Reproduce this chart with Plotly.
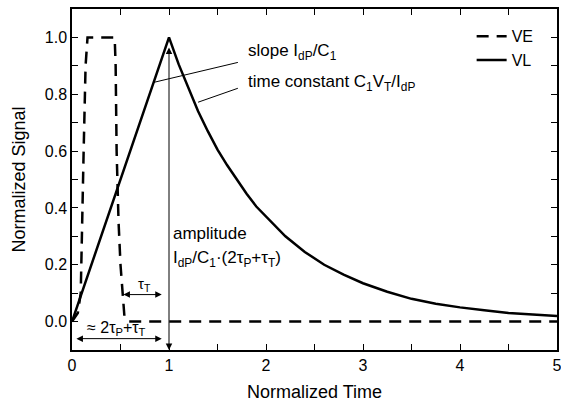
import plotly.graph_objects as go

# ---- data ----
ve_x = [0, 0.06, 0.09, 0.10, 0.12, 0.14, 0.16, 0.44, 0.45, 0.46, 0.48, 0.50, 0.52, 0.54, 0.58, 5.0]
ve_y = [0, 0.03, 0.10, 0.30, 0.60, 0.90, 1.00, 1.00, 0.90, 0.60, 0.35, 0.20, 0.10, 0.02, 0.0, 0.0]

vl_x = [0, 1.0, 1.1, 1.2, 1.3, 1.4, 1.5, 1.6, 1.7, 1.8, 1.9, 2.0, 2.2, 2.4, 2.6, 2.8, 3.0,
        3.25, 3.5, 3.75, 4.0, 4.25, 4.5, 4.75, 5.0]
vl_y = [0, 1.0, 0.905, 0.82, 0.74, 0.67, 0.605, 0.55, 0.50, 0.45, 0.405, 0.37, 0.30, 0.245,
        0.20, 0.165, 0.135, 0.105, 0.08, 0.063, 0.05, 0.04, 0.03, 0.025, 0.02]

x_ticks = [0, 1, 2, 3, 4, 5]
y_ticks = [0.0, 0.2, 0.4, 0.6, 0.8, 1.0]

FONT = "Arial, Liberation Sans, sans-serif"

fig = go.Figure()
fig.add_trace(go.Scatter(x=ve_x, y=ve_y, mode="lines", name="VE",
                         line=dict(color="black", width=2.5, dash="12px,8px")))
fig.add_trace(go.Scatter(x=vl_x, y=vl_y, mode="lines", name="VL",
                         line=dict(color="black", width=2.5)))

# leader lines
fig.add_shape(type="line", xref="x", yref="y", x0=0.845, y0=0.842, x1=1.71, y1=0.912,
              line=dict(color="black", width=1))
fig.add_shape(type="line", xref="x", yref="y", x0=1.30, y0=0.772, x1=1.71, y1=0.821,
              line=dict(color="black", width=1))

tf = dict(family=FONT, size=17, color="black")
fig.add_annotation(x=1.79, y=0.947, xref="x", yref="y", xanchor="left", showarrow=False,
                   text="slope I<sub>dP</sub>/C<sub>1</sub>", font=tf)
fig.add_annotation(x=1.79, y=0.84, xref="x", yref="y", xanchor="left", showarrow=False,
                   text="time constant C<sub>1</sub>V<sub>T</sub>/I<sub>dP</sub>", font=tf)
fig.add_annotation(x=1.02, y=0.31, xref="x", yref="y", xanchor="left", showarrow=False,
                   text="amplitude", font=tf)
fig.add_annotation(x=1.02, y=0.22, xref="x", yref="y", xanchor="left", showarrow=False,
                   text="I<sub>dP</sub>/C<sub>1</sub>·(2τ<sub>P</sub>+τ<sub>T</sub>)", font=tf)
fig.add_annotation(x=0.75, y=0.13, xref="x", yref="y", showarrow=False,
                   text="τ<sub>T</sub>", font=dict(family=FONT, size=15, color="black"))
fig.add_annotation(x=0.46, y=-0.025, xref="x", yref="y", showarrow=False,
                   text="≈ 2τ<sub>P</sub>+τ<sub>T</sub>", font=dict(family=FONT, size=16, color="black"))

# arrows
arrow = dict(xref="x", yref="y", axref="x", ayref="y", text="", showarrow=True,
             arrowhead=2, arrowsize=1.3, arrowwidth=1, arrowcolor="black",
             arrowside="end+start", standoff=0, startstandoff=0)
fig.add_annotation(x=1.0, y=-0.1, ax=1.0, ay=0.97, **arrow)
fig.add_annotation(x=0.925, y=0.095, ax=0.515, ay=0.095, **arrow)
fig.add_annotation(x=0.925, y=-0.06, ax=0.03, ay=-0.06, **arrow)

axis_common = dict(showline=True, linecolor="black", linewidth=1.5, mirror="ticks",
                   ticks="inside", ticklen=6, tickwidth=1, tickcolor="black",
                   showgrid=False, zeroline=False, automargin=False,
                   tickfont=dict(family=FONT, size=16, color="black"))

fig.update_xaxes(range=[0, 5], tickvals=x_ticks, ticktext=[str(v) for v in x_ticks],
                 ticklabeloverflow="allow",
                 minor=dict(dtick=0.5, tick0=0, ticks="inside", ticklen=6, tickcolor="black", showgrid=False),
                 title=dict(text="Normalized Time", font=dict(family=FONT, size=18, color="black"),
                            standoff=12),
                 **axis_common)
fig.update_yaxes(range=[-0.1, 1.1], tickvals=y_ticks, ticktext=[f"{v:.1f}" for v in y_ticks],
                 minor=dict(dtick=0.1, tick0=0, ticks="inside", ticklen=6, tickcolor="black", showgrid=False),
                 title=dict(text="Normalized Signal", font=dict(family=FONT, size=18, color="black"),
                            standoff=14),
                 **axis_common)

fig.update_layout(
    width=565, height=409,
    margin=dict(l=72, r=8, t=9, b=59),
    paper_bgcolor="white", plot_bgcolor="white",
    showlegend=True,
    legend=dict(x=0.824, y=0.97, xanchor="left", yanchor="top",
                bgcolor="rgba(0,0,0,0)", font=dict(family=FONT, size=16, color="black"),
                tracegroupgap=0),
    font=dict(family=FONT),
)

# remove the default page margin and scrollbars so the figure sits at the window's corner
fig.write_html(
    "out.html",
    config={"displayModeBar": False},
    post_script=(
        "document.documentElement.style.overflow='hidden';"
        "document.body.style.overflow='hidden';"
        "document.body.style.margin='0';"
    ),
)
